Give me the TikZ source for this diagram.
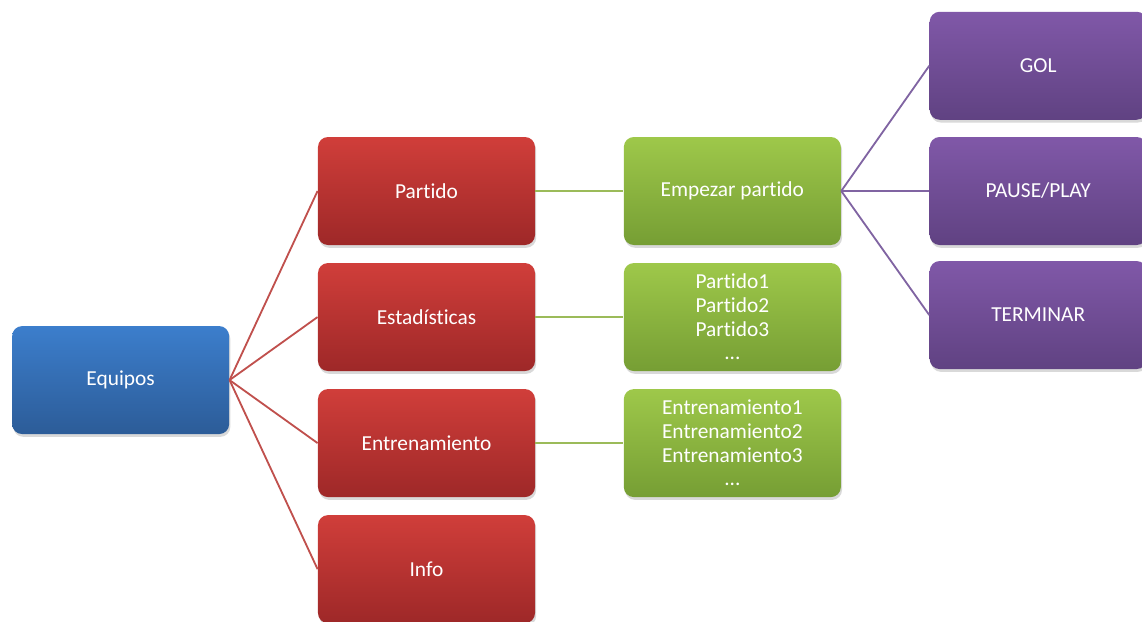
\documentclass[tikz,border=0pt]{standalone}
\usepackage{fontspec}
\setmainfont{Carlito}[Ligatures=NoCommon]
\usetikzlibrary{positioning, shadows, calc}

\definecolor{azulA}{RGB}{60,126,204}
\definecolor{azulB}{RGB}{44,92,152}
\definecolor{rojoA}{RGB}{208,62,58}
\definecolor{rojoB}{RGB}{158,40,40}
\definecolor{verdeA}{RGB}{158,200,74}
\definecolor{verdeB}{RGB}{118,158,52}
\definecolor{moradoA}{RGB}{128,88,168}
\definecolor{moradoB}{RGB}{96,66,130}
\definecolor{lrojo}{RGB}{192,80,77}
\definecolor{lverde}{RGB}{155,187,89}
\definecolor{lmorado}{RGB}{128,100,162}

\begin{document}
\begin{tikzpicture}[semithick, node distance=0.43cm and 2.2cm]

%====Estilos cajas y lineas==================================================

	\tikzstyle{caja}=[rectangle, rounded corners=0.25cm, minimum width=5.425cm, minimum height=2.7cm, text=white, align=center, font=\fontsize{15.2}{16.8}\selectfont, drop shadow={opacity=0.3, shadow xshift=0.3mm, shadow yshift=-0.7mm}]
	\tikzstyle{azul}=[caja, top color=azulA, bottom color=azulB]
	\tikzstyle{roja}=[caja, top color=rojoA, bottom color=rojoB]
	\tikzstyle{verde}=[caja, top color=verdeA, bottom color=verdeB]
	\tikzstyle{morada}=[caja, top color=moradoA, bottom color=moradoB]
	\tikzstyle{linea}=[line width=1.3pt]

	\useasboundingbox (-10.6625,4.775) rectangle (17.8875,-10.75);

%====Cajas y posicion=======================================================

	\node[roja]	(partido)	at (0,0)			{Partido};
	\node[roja]	(estad)		[below=of partido]	{Estadísticas};
	\node[roja]	(entren)	[below=of estad]	{Entrenamiento};
	\node[roja]	(info)		[below=of entren]	{Info};
	\coordinate (medio) at ($(estad.west)!0.5!(entren.west)$);
	\node[azul]	(equipos)	[left=of medio]		{Equipos};

	\node[verde]	(empezar)	[right=of partido]	{Empezar partido};
	\node[verde]	(listpart)	[right=of estad]	{Partido1\\Partido2\\Partido3\\...};
	\node[verde]	(listentr)	[right=of entren]	{Entrenamiento1\\Entrenamiento2\\Entrenamiento3\\...};

	\node[morada]	(pause)		[right=of empezar]	{PAUSE/PLAY};
	\node[morada]	(gol)		[above=0.41cm of pause]	{GOL};
	\node[morada]	(terminar)	[below=0.38cm of pause]	{TERMINAR};

%====Conexiones=============================================================

	\foreach \n in {partido, estad, entren, info}
		\draw[linea, lrojo] (equipos.east) -- (\n.west);
	\draw[linea, lverde] (partido.east) -- (empezar.west);
	\draw[linea, lverde] (estad.east) -- (listpart.west);
	\draw[linea, lverde] (entren.east) -- (listentr.west);
	\foreach \n in {gol, pause, terminar}
		\draw[linea, lmorado] (empezar.east) -- (\n.west);
\end{tikzpicture}
\end{document}
